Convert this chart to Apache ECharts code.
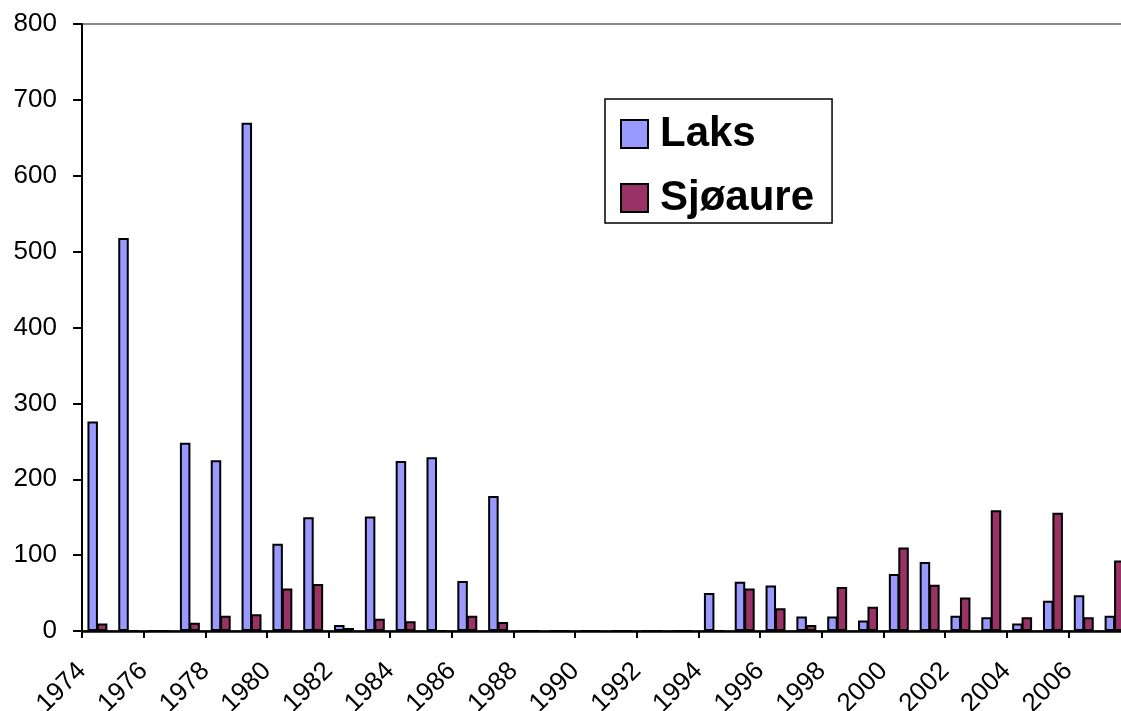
<!DOCTYPE html>
<html>
<head>
<meta charset="utf-8">
<script src="https://cdn.jsdelivr.net/npm/echarts@6/dist/echarts.min.js"></script>
<style>
html,body{margin:0;padding:0;background:#fff;}
#chart{width:1121px;height:711px;}
</style>
</head>
<body>
<div id="chart"></div>
<script>
const years = ['1974','1975','1976','1977','1978','1979','1980','1981','1982','1983','1984','1985','1986','1987','1988','1989','1990','1991','1992','1993','1994','1995','1996','1997','1998','1999','2000','2001','2002','2003','2004','2005','2006','2007'];
const tickYears = ['1974','1975','1976','1977','1978','1979','1980','1981','1982','1983','1984','1985','1986','1987','1988','1989','1990','1991','1992','1993','1994','1995','1996','1997','1998','1999','2000','2001','2002','2003','2004','2005','2006','2007','2008'];
const laks = [276,518,0,248,225,670,115,150,8,151,224,229,66,178,0,0,0,0,0,0,50,65,60,19,19,14,75,91,20,18,10,40,47,20];
const sjoaure = [10,0,0,11,20,22,56,62,4,16,13,0,20,12,0,0,0,0,0,0,0,56,30,8,58,32,110,61,44,159,18,156,18,93];
const yTicks = [0,100,200,300,400,500,600,700,800];

const FONT = "'Liberation Sans', Arial, sans-serif";
const chart = echarts.init(document.getElementById('chart'), null, {renderer:'canvas'});
chart.setOption({
  animation: false,
  backgroundColor: '#ffffff',
  grid: {left: 82, top: 24, height: 607, width: 1048, outerBoundsMode: 'none', containLabel: false,
         show: true, borderColor: '#888888', borderWidth: 2, backgroundColor: 'transparent'},
  legend: {
    left: 605, top: 99, orient: 'vertical',
    padding: [14, 18, 4, 15],
    borderColor: '#000', borderWidth: 1.5, backgroundColor: '#fff',
    itemWidth: 27, itemHeight: 28, itemGap: 22,
    icon: 'rect',
    textStyle: {fontFamily: FONT, fontSize: 42, fontWeight: 'bold', color: '#000', padding: [0,0,0,7]},
    data: ['Laks', 'Sjøaure']
  },
  xAxis: [
    {
      type: 'category', data: years, boundaryGap: true, position: 'bottom', z: 5,
      axisLine: {lineStyle: {color: '#000', width: 2.5}},
      axisTick: {show: true, length: 7, lineStyle: {color: '#000', width: 2}, alignWithLabel: false},
      axisLabel: {show: false},
      splitLine: {show: false}
    },
    {
      type: 'category', data: tickYears, boundaryGap: false, position: 'bottom',
      axisLine: {show: false}, axisTick: {show: false}, splitLine: {show: false},
      axisLabel: {
        show: true, rotate: 45, margin: 36, fontFamily: FONT, fontSize: 26, color: '#000',
        hideOverlap: false,
        interval: function (i) { return i % 2 === 0 && i < 34; }
      }
    }
  ],
  yAxis: {
    type: 'value', min: 0, max: 800, interval: 100, z: 5,
    axisLine: {show: true, lineStyle: {color: '#000', width: 2}},
    axisTick: {show: true, length: 9, lineStyle: {color: '#000', width: 2}},
    axisLabel: {fontFamily: FONT, fontSize: 26, color: '#000', margin: 25,
      formatter: function (v) { return yTicks.indexOf(v) >= 0 ? String(v) : ''; }},
    splitLine: {show: false}
  },
  series: [
    {name: 'Laks', type: 'bar', xAxisIndex: 0, data: laks, barWidth: 10.5, barGap: '-10%', z: 2,
     itemStyle: {color: '#9999FF', borderColor: '#000', borderWidth: 2}},
    {name: 'Sjøaure', type: 'bar', xAxisIndex: 0, data: sjoaure, barWidth: 10.5, barGap: '-10%', z: 2,
     itemStyle: {color: '#993366', borderColor: '#000', borderWidth: 2}}
  ]
});
</script>
</body>
</html>
